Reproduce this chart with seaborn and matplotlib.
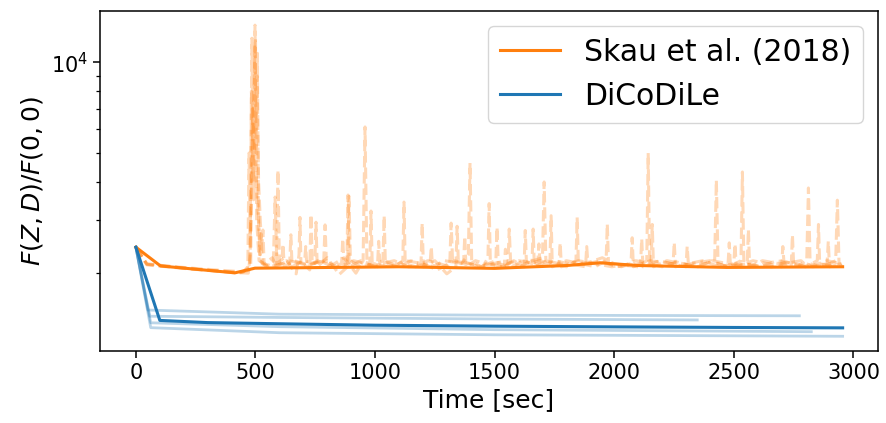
import numpy as np
import pandas as pd
import matplotlib
matplotlib.use("Agg")
import matplotlib.pyplot as plt
import seaborn as sns
from matplotlib.ticker import NullFormatter

ORANGE = "#ff7f0e"
BLUE = "#1f77b4"

# --- Skau et al. (2018): median curve ---
skau_t = [0, 103, 414, 498, 700, 1100, 1500, 1600, 1800, 1940, 2100, 2470, 2700, 2955]
skau_v = [2438, 2113, 2005, 2078, 2085, 2100, 2075, 2090, 2120, 2165, 2120, 2090, 2095, 2100]

# --- Skau et al. (2018): individual runs (faint dashed) ---
run1_t = [0, 46, 200, 420, 470, 478, 485, 490, 498, 505,
          515, 540, 570, 588, 594, 600, 630, 670, 682, 686,
          690, 720, 760, 785, 791, 797, 830, 870, 920, 950,
          958, 966, 1000, 1050, 1090, 1116, 1121, 1126, 1170, 1220,
          1270, 1312, 1318, 1324, 1360, 1390, 1397, 1404, 1440, 1490,
          1530, 1555, 1561, 1567, 1610, 1660, 1700, 1707, 1714, 1760,
          1800, 1840, 1845, 1850, 1900, 1950, 2000, 2050, 2100, 2136,
          2142, 2148, 2200, 2260, 2320, 2380, 2420, 2427, 2434, 2480,
          2530, 2536, 2542, 2600, 2660, 2720, 2770, 2805, 2812, 2819,
          2870, 2926, 2933, 2940, 2955]
run1_v = [2438, 2140, 2080, 2010, 2000, 2300, 12000, 4000, 13260, 3000,
          2200, 2150, 2250, 2100, 4390, 2150, 2200, 1990, 2300, 3060,
          2150, 2120, 2200, 2150, 2890, 2100, 2150, 2250, 2000, 2200,
          6100, 2150, 2100, 2180, 2120, 2200, 3440, 2150, 2100, 2200,
          2150, 2100, 2930, 2200, 2150, 2300, 4634, 2200, 2100, 2150,
          2180, 2100, 2800, 2150, 2120, 2200, 2250, 4010, 2200, 2150,
          2100, 2200, 3060, 2150, 2180, 2250, 2150, 2120, 2100, 2200,
          5000, 2150, 2100, 2180, 2120, 2150, 2200, 4066, 2150, 2100,
          2200, 4327, 2150, 2120, 2100, 2180, 2120, 2200, 3830, 2150,
          2100, 2200, 3490, 2150, 2100]

run2_t = [0, 46, 220, 430, 475, 495, 500, 503, 508, 512,
          518, 545, 575, 582, 589, 620, 643, 648, 653, 700,
          748, 753, 758, 800, 850, 885, 891, 897, 940, 1000,
          1033, 1038, 1043, 1100, 1150, 1192, 1197, 1202, 1250, 1300,
          1338, 1343, 1348, 1400, 1450, 1472, 1477, 1482, 1530, 1580,
          1623, 1628, 1633, 1690, 1731, 1736, 1741, 1800, 1860, 1920,
          1966, 1971, 1976, 2030, 2090, 2154, 2159, 2164, 2220, 2290,
          2350, 2410, 2476, 2481, 2486, 2556, 2561, 2566, 2620, 2690,
          2740, 2745, 2750, 2800, 2849, 2854, 2859, 2900, 2950]
run2_v = [2438, 2150, 2070, 2000, 2050, 9000, 12000, 5000, 10700, 3500,
          2200, 2100, 2200, 3575, 2150, 2250, 2150, 2680, 2100, 2200,
          2150, 2950, 2100, 2250, 1980, 2100, 3595, 2200, 2100, 2150,
          2200, 3100, 2150, 2100, 2200, 2150, 2930, 2100, 2200, 1990,
          2100, 2860, 2200, 2150, 2100, 2250, 3400, 2150, 2100, 2200,
          2100, 2770, 2150, 2200, 2150, 3100, 2100, 2200, 2150, 2100,
          2200, 2910, 2150, 2100, 2200, 2150, 2900, 2100, 2200, 2150,
          2100, 2200, 2150, 2520, 2100, 2150, 2790, 2100, 2200, 2150,
          2100, 2680, 2150, 2100, 2200, 2900, 2150, 2120, 2150]

run3_t = [0, 46, 240, 440, 480, 487, 492, 497, 503, 507,
          513, 520, 526, 531, 536, 580, 640, 700, 727, 732,
          737, 790, 840, 882, 887, 892, 940, 978, 983, 988,
          1060, 1130, 1200, 1260, 1330, 1390, 1440, 1505, 1510, 1515,
          1570, 1620, 1656, 1661, 1666, 1720, 1769, 1774, 1779, 1850,
          1920, 1990, 2070, 2075, 2080, 2150, 2246, 2251, 2256, 2320,
          2400, 2470, 2540, 2610, 2680, 2750, 2820, 2890, 2950]
run3_v = [2438, 2130, 2060, 2010, 2100, 7000, 3500, 11500, 6000, 9000,
          4000, 3000, 2400, 2780, 2150, 2100, 2200, 2150, 2050, 3130,
          2150, 2200, 2100, 2150, 3630, 2100, 2200, 2150, 3213, 2150,
          2100, 2200, 2150, 2050, 2200, 2150, 2100, 2200, 2840, 2150,
          2100, 2200, 2150, 2800, 2100, 2200, 2150, 2520, 2100, 2200,
          2150, 2100, 2150, 2620, 2100, 2200, 2150, 2530, 2100, 2150,
          2200, 2100, 2150, 2100, 2200, 2150, 2100, 2200, 2150]

run4_t = [0, 46, 260, 450, 468, 473, 478, 483, 520, 524,
          528, 560, 610, 615, 620, 660, 705, 710, 715, 770,
          820, 860, 865, 870, 910, 1010, 1015, 1020, 1080, 1140,
          1230, 1235, 1240, 1290, 1370, 1375, 1380, 1420, 1460, 1540,
          1545, 1550, 1600, 1680, 1685, 1690, 1750, 1810, 1880, 1885,
          1890, 1940, 2010, 2110, 2115, 2120, 2190, 2240, 2300, 2305,
          2310, 2370, 2440, 2500, 2505, 2510, 2580, 2640, 2700, 2705,
          2710, 2780, 2830, 2890, 2895, 2900, 2950]
run4_v = [2438, 2140, 2070, 2020, 2100, 5000, 2600, 8000, 2300, 2700,
          2150, 2100, 2150, 2500, 2100, 2200, 2150, 2450, 2100, 2200,
          2100, 2150, 2600, 2120, 2200, 2100, 2550, 2150, 2200, 2100,
          2150, 2450, 2100, 2200, 2150, 2650, 2100, 2200, 2150, 2100,
          2400, 2150, 2200, 2150, 2500, 2100, 2200, 2150, 2100, 2450,
          2150, 2200, 2100, 2150, 2600, 2100, 2200, 2150, 2100, 2450,
          2150, 2200, 2100, 2150, 2500, 2100, 2200, 2150, 2100, 2450,
          2150, 2200, 2100, 2150, 2550, 2100, 2150]

# --- DiCoDiLe: median curve ---
dico_t = [0, 100, 300, 600, 1000, 1500, 2000, 2500, 2955]
dico_v = [2438, 1395, 1372, 1360, 1345, 1335, 1328, 1322, 1318]

# --- DiCoDiLe: individual runs (faint) ---
dicoA_t = [0, 50, 600, 1500, 2774]
dicoA_v = [2438, 1510, 1463, 1452, 1445]
dicoB_t = [0, 58, 600, 1500, 2347]
dicoB_v = [2438, 1440, 1427, 1410, 1400]
dicoC_t = [0, 62, 600, 1500, 2824]
dicoC_v = [2438, 1370, 1330, 1300, 1280]
dicoD_t = [0, 62, 600, 1500, 2955]
dicoD_v = [2438, 1320, 1270, 1250, 1236]

runs = [(run1_t, run1_v), (run2_t, run2_v), (run3_t, run3_v), (run4_t, run4_v)]
for a, b in runs:
    assert len(a) == len(b), (len(a), len(b))

plt.rcParams["font.family"] = ["DejaVu Sans"]
plt.rcParams["mathtext.fontset"] = "dejavusans"

fig, ax = plt.subplots(figsize=(8.86, 4.23), dpi=100)
fig.subplots_adjust(left=0.1129, right=0.991, top=0.974, bottom=0.170)

for t, v in runs:
    sns.lineplot(x=t, y=v, ax=ax, color=ORANGE, alpha=0.3, lw=2.2,
                 linestyle="--", legend=False, estimator=None)

for t, v in [(dicoA_t, dicoA_v), (dicoB_t, dicoB_v),
             (dicoC_t, dicoC_v), (dicoD_t, dicoD_v)]:
    sns.lineplot(x=t, y=v, ax=ax, color=BLUE, alpha=0.3, lw=2.0,
                 legend=False, estimator=None)

sns.lineplot(x=skau_t, y=skau_v, ax=ax, color=ORANGE, lw=2.2,
             label="Skau et al. (2018)", estimator=None)
sns.lineplot(x=dico_t, y=dico_v, ax=ax, color=BLUE, lw=2.2,
             label="DiCoDiLe", estimator=None)

ax.set_yscale("log")
ax.set_ylim(1104, 14770)
ax.set_xlim(-150, 3103)
ax.yaxis.set_minor_formatter(NullFormatter())
ax.set_xticks([0, 500, 1000, 1500, 2000, 2500, 3000])

ax.set_xlabel("Time [sec]", fontsize=18)
ax.set_ylabel(r"$F(Z, D)/F(0, 0)$", fontsize=18)
ax.tick_params(axis="both", which="major", labelsize=15, length=5, width=1.1)
ax.tick_params(axis="both", which="minor", length=3, width=0.9)
for s in ax.spines.values():
    s.set_linewidth(1.1)

leg = ax.legend(loc="upper right", fontsize=21.5)

fig.savefig("out.png", dpi=100)
